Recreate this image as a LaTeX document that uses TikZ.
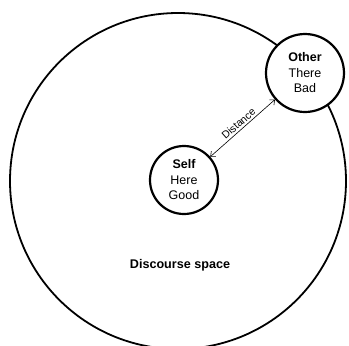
\documentclass[tikz,border=0pt]{standalone}
\usepackage{fontspec}
\setmainfont{Liberation Sans}
\usepackage{tikz}
\usetikzlibrary{arrows.meta, positioning}

\begin{document}
\begin{tikzpicture}[
    x=1pt, y=1pt,
    space/.style={circle, draw, line width=1.8pt, minimum size=336pt, inner sep=0pt},
    person/.style={circle, draw, fill=white, line width=2.2pt, inner sep=0pt, align=center,
        font=\fontsize{12.5}{15.5}\selectfont},
    distarrow/.style={{Straight Barb[length=4pt,width=7pt]}-{Straight Barb[length=4pt,width=7pt]}, line width=0.6pt}
]
    \useasboundingbox (0,0) rectangle (349,-346);

    % Discourse space
    \node[space] (space) at (178,-181) {};
    \node[font=\fontsize{12.6}{14}\selectfont\bfseries] (spacelabel) at (180,-265) {Discourse space};

    % Self and Other
    \node[person, minimum size=68pt] (self) at (184,-180) {\textbf{Self}\\Here\\Good};
    \node[person, minimum size=78pt] (other) at (305,-73) {\textbf{Other}\\There\\Bad};

    % Distance
    \draw[distarrow] (self) -- (other)
        node[midway, above, sloped, inner sep=2pt, font=\fontsize{10.5}{12}\selectfont] {Distance};
\end{tikzpicture}
\end{document}
